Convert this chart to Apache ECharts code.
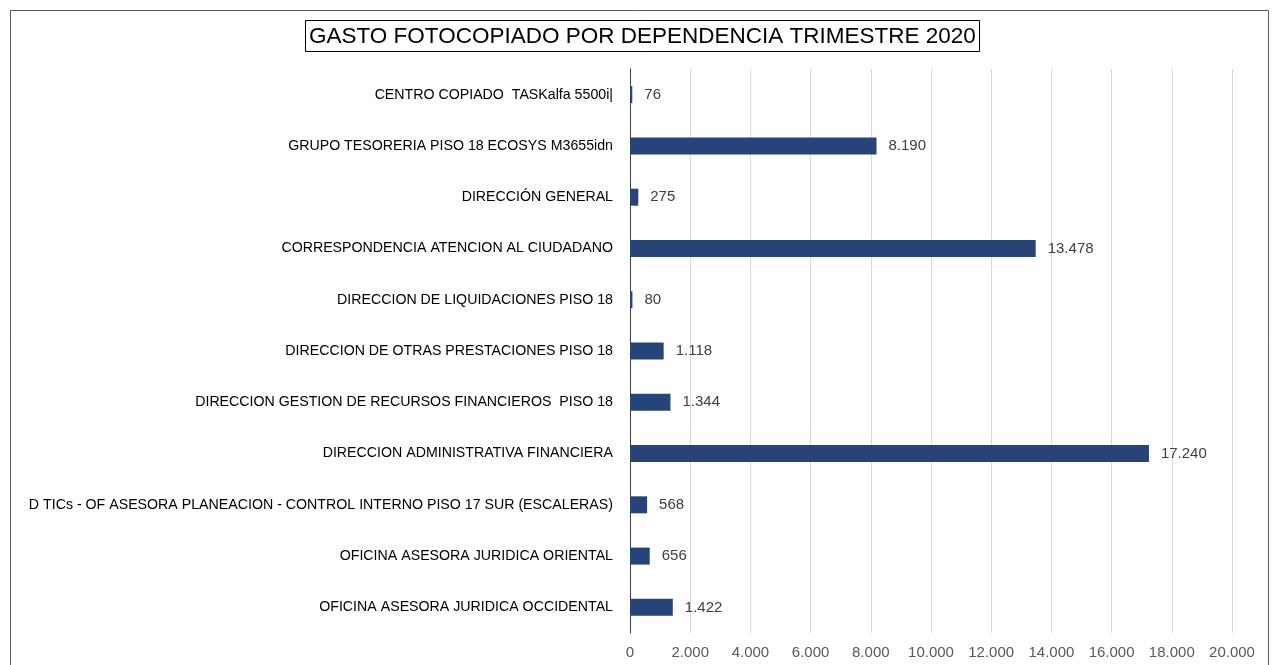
<!DOCTYPE html>
<html>
<head>
    <meta charset="utf-8">
    <title>Gasto fotocopiado</title>
    <style type="text/css">
        html, body { margin: 0; padding: 0; width: 100%; height: 100%; background: #fff; }
        #main { width: 1275px; height: 665px; }
    </style>
    <script src="https://cdn.jsdelivr.net/npm/echarts@6/dist/echarts.min.js"></script>
</head>
<body>
<div id="main"></div>
<script type="text/javascript">
    // dependencias (de arriba hacia abajo) y su gasto
    var dependencias = [
        'CENTRO COPIADO  TASKalfa 5500i|',
        'GRUPO TESORERIA PISO 18 ECOSYS M3655idn',
        'DIRECCIÓN GENERAL',
        'CORRESPONDENCIA ATENCION AL CIUDADANO',
        'DIRECCION DE LIQUIDACIONES PISO 18',
        'DIRECCION DE OTRAS PRESTACIONES PISO 18',
        'DIRECCION GESTION DE RECURSOS FINANCIEROS  PISO 18',
        'DIRECCION ADMINISTRATIVA FINANCIERA',
        'D TICs - OF ASESORA PLANEACION - CONTROL INTERNO PISO 17 SUR (ESCALERAS)',
        'OFICINA ASESORA JURIDICA ORIENTAL',
        'OFICINA ASESORA JURIDICA OCCIDENTAL'
    ];
    var gasto = [76, 8190, 275, 13478, 80, 1118, 1344, 17240, 568, 656, 1422];

    var ejeMin = 0, ejeMax = 20000, ejePaso = 2000;

    // separador de miles con punto
    function miles(v) {
        return String(v).replace(/\B(?=(\d{3})+(?!\d))/g, '.');
    }

    var fuente = 'Liberation Sans, Arial, sans-serif';
    var myChart = echarts.init(document.getElementById('main'));

    var option = {
        backgroundColor: '#fff',
        animation: false,
        title: {
            text: 'GASTO FOTOCOPIADO POR DEPENDENCIA TRIMESTRE 2020',
            left: 305,
            top: 20,
            padding: [5, 4, 4, 4],
            borderColor: '#000',
            borderWidth: 1,
            textStyle: { color: '#000', fontSize: 22.5, fontWeight: 'normal', fontFamily: fuente }
        },
        graphic: [{
            type: 'rect',
            shape: { x: 10.5, y: 10.5, width: 1258, height: 700 },
            style: { fill: 'none', stroke: '#595959', lineWidth: 1 },
            silent: true,
            z: -1
        }],
        grid: { left: 630, right: 43, top: 69, bottom: 32 },
        xAxis: {
            type: 'value',
            min: ejeMin,
            max: ejeMax,
            interval: ejePaso,
            axisLine: { show: false },
            axisTick: { show: false },
            splitLine: { lineStyle: { color: '#d9d9d9', width: 1 } },
            axisLabel: {
                margin: 12,
                color: '#595959',
                fontSize: 15,
                fontFamily: fuente,
                formatter: function (v) { return miles(v); }
            }
        },
        yAxis: {
            type: 'category',
            inverse: true,
            data: dependencias,
            axisLine: { lineStyle: { color: '#404040', width: 1 } },
            axisTick: { show: false },
            axisLabel: { margin: 17, color: '#000', fontSize: 14.2, fontFamily: fuente }
        },
        series: [{
            type: 'bar',
            data: gasto,
            barWidth: 17,
            itemStyle: { color: '#264478' },
            label: {
                show: true,
                position: 'right',
                distance: 12,
                color: '#404040',
                fontSize: 15,
                fontFamily: fuente,
                formatter: function (p) { return miles(p.value); }
            }
        }]
    };

    myChart.setOption(option);
</script>
</body>
</html>
